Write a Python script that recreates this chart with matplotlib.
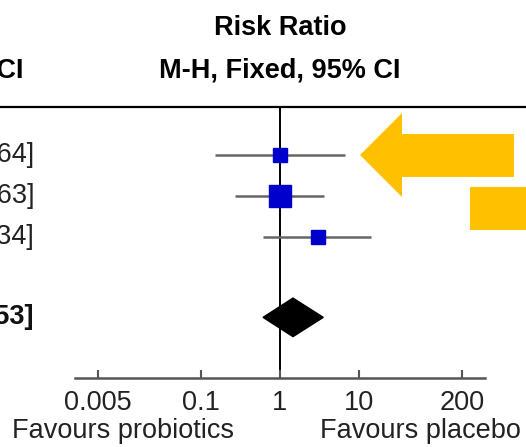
import matplotlib
matplotlib.use('Agg')
import matplotlib.pyplot as plt
from matplotlib.patches import Polygon, Rectangle
import numpy as np

plt.rcParams['font.family'] = ['Liberation Sans', 'DejaVu Sans']

# study rows (only the right end of the CI text is visible in the crop)
ci_text = ['1.00 [0.15, 6.64]', '1.00 [0.27, 3.63]', '3.03 [0.63, 14.34]']
rr = [1.00, 1.00, 3.03]
lo = [0.15, 0.27, 0.61]
hi = [6.64, 3.63, 14.34]
weights = [22.0, 56.0, 22.0]
rows = [1, 2, 3]

total_text = '1.46 [0.60, 3.53]'
total_rr, total_lo, total_hi = 1.46, 0.61, 3.53
total_row = 4.96

ticks = [0.005, 0.1, 1, 10, 200]
tick_labels = ['0.005', '0.1', '1', '10', '200']

W, H = 526, 447
fig = plt.figure(figsize=(W / 100, H / 100), dpi=100)


def fx(x):
    return x / W


def fy(y):
    return 1 - y / H


dec = 79.0  # px per decade
ax = fig.add_axes([0, 0, 1, 1])
ax.set_xscale('log')
ax.set_xlim(10 ** (-280 / dec), 10 ** ((W - 280) / dec))
ax.set_ylim(1 + (H - 155) / 41, 1 - 155 / 41)
ax.axis('off')

line_top = 1 + (107 - 155) / 41
line_bot = 1 + (378 - 155) / 41
ax.axhline(line_top, color='black', lw=1.6)
ax.plot([1, 1], [line_top, line_bot], color='black', lw=1.4, zorder=1)

for r, m, l, h, w in zip(rows, rr, lo, hi, weights):
    ax.plot([l, h], [r, r], color='#666666', lw=1.8, solid_capstyle='butt', zorder=2)
    ax.plot(m, r, marker='s', color='#0000CC', mec='#0000CC',
            ms=16.5 * np.sqrt(w / 56), zorder=3)

dh = 0.47
ax.fill([total_lo, total_rr, total_hi, total_rr],
        [total_row, total_row - dh, total_row, total_row + dh],
        color='black', zorder=3)

# left column text (cropped)
for r, t in zip(rows, ci_text):
    ax.text(10 ** (-280 / dec + 34 / dec), r + 0.17, t, ha='right', va='baseline',
            fontsize=19.5, color='#222222')
ax.text(10 ** (-280 / dec + 33 / dec), total_row + 0.17, total_text, ha='right',
        va='baseline', fontsize=19.5, fontweight='bold', color='#111111')

fig.text(fx(23), fy(77), 'M-H, Fixed, 95% CI', ha='right', va='baseline',
         fontsize=19.5, fontweight='bold')
fig.text(fx(280), fy(35), 'Risk Ratio', ha='center', va='baseline',
         fontsize=19.5, fontweight='bold')
fig.text(fx(280), fy(77), 'M-H, Fixed, 95% CI', ha='center', va='baseline',
         fontsize=19.5, fontweight='bold')

# bottom scale
ax2 = fig.add_axes([fx(75), fy(378), fx(410), 0.01])
ax2.set_facecolor('none')
ax2.set_xscale('log')
ax2.set_xlim(10 ** (-205 / dec), 10 ** (205 / dec))
for s in ['top', 'left', 'right']:
    ax2.spines[s].set_visible(False)
ax2.spines['bottom'].set_color('#555555')
ax2.spines['bottom'].set_linewidth(1.8)
ax2.set_yticks([])
ax2.set_xticks(ticks)
ax2.set_xticklabels(tick_labels)
ax2.minorticks_off()
ax2.tick_params(axis='x', direction='in', length=6, width=1.5, color='#555555',
                labelsize=19.5, labelcolor='#222222', pad=8.5)

fig.text(fx(123), fy(438), 'Favours probiotics', ha='center', va='baseline',
         fontsize=19.5, color='#222222')
fig.text(fx(420), fy(438), 'Favours placebo', ha='center', va='baseline',
         fontsize=19.5, color='#222222')

# orange highlight arrow and block
orange = '#FFC000'
arrow = [(360, 155), (402, 113), (402, 134), (514, 134), (514, 177),
         (402, 177), (402, 197)]
fig.patches.append(Polygon([(fx(x), fy(y)) for x, y in arrow], closed=True,
                           transform=fig.transFigure, color=orange, lw=0))
fig.patches.append(Rectangle((fx(470), fy(230)), fx(56), 43 / H,
                             transform=fig.transFigure, color=orange, lw=0))

fig.savefig('out.png', dpi=100)
